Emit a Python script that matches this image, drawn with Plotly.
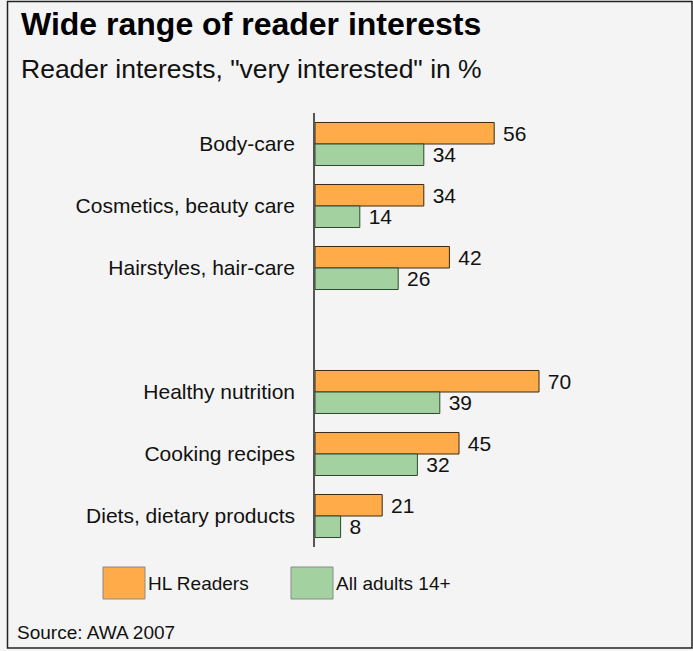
import plotly.graph_objects as go

# ---- data ----
categories = ["Body-care", "Cosmetics, beauty care", "Hairstyles, hair-care", " ",
              "Healthy nutrition", "Cooking recipes", "Diets, dietary products"]
hl_readers = [56, 34, 42, None, 70, 45, 21]
all_adults = [34, 14, 26, None, 39, 32, 8]
series_names = ["HL Readers", "All adults 14+"]
title_text = "Wide range of reader interests"
subtitle_text = 'Reader interests, "very interested" in %'
source_text = "Source: AWA 2007"

# ---- layout geometry (pixels) ----
W, H = 693, 651
ML, MR, MT, MB = 315, 58, 113, 104
PW, PH = W - ML - MR, H - MT - MB


def px(x):
    return (x - ML) / PW


def py(y):
    return (H - MB - y) / PH


FONT = "Liberation Sans, Arial, sans-serif"
ORANGE = "#ffab4a"
GREEN = "#a4d1a0"

fig = go.Figure()
fig.add_trace(go.Bar(
    y=categories, x=hl_readers, orientation="h", name=series_names[0],
    marker=dict(color=ORANGE, line=dict(color="#3a2a10", width=1)),
    text=hl_readers, texttemplate=" %{x}", textposition="outside",
    textfont=dict(size=21, color="#111", family=FONT),
    constraintext="none", cliponaxis=False, hoverinfo="skip",
))
fig.add_trace(go.Bar(
    y=categories, x=all_adults, orientation="h", name=series_names[1],
    marker=dict(color=GREEN, line=dict(color="#2e4a2e", width=1)),
    text=all_adults, texttemplate=" %{x}", textposition="outside",
    textfont=dict(size=21, color="#111", family=FONT),
    constraintext="none", cliponaxis=False, hoverinfo="skip",
))

annotations = [
    dict(text="<b>" + title_text + "</b>", x=px(19), y=py(24), xanchor="left", yanchor="middle",
         font=dict(size=32, color="#000", family=FONT)),
    dict(text=subtitle_text, x=px(19), y=py(69), xanchor="left", yanchor="middle",
         font=dict(size=26.5, color="#111", family=FONT)),
    dict(text=source_text, x=px(15), y=py(632), xanchor="left", yanchor="middle",
         font=dict(size=19, color="#111", family=FONT)),
    dict(text=series_names[0], x=px(146), y=py(583), xanchor="left", yanchor="middle",
         font=dict(size=19, color="#111", family=FONT)),
    dict(text=series_names[1], x=px(334), y=py(583), xanchor="left", yanchor="middle",
         font=dict(size=19, color="#111", family=FONT)),
]
for a in annotations:
    a.update(xref="paper", yref="paper", showarrow=False)

shapes = [
    dict(type="rect", xref="paper", yref="paper", x0=px(103), x1=px(145), y0=py(567), y1=py(599),
         fillcolor=ORANGE, line=dict(color="#8a8a8a", width=1)),
    dict(type="rect", xref="paper", yref="paper", x0=px(291), x1=px(333), y0=py(567), y1=py(599),
         fillcolor=GREEN, line=dict(color="#8a8a8a", width=1)),
    dict(type="rect", xref="paper", yref="paper", x0=px(7.5), x1=px(692), y0=py(1.5), y1=py(648),
         fillcolor="rgba(0,0,0,0)", line=dict(color="#222", width=1.5), layer="above"),
]

fig.update_layout(
    width=W, height=H, autosize=False,
    margin=dict(l=ML, r=MR, t=MT, b=MB, pad=0),
    paper_bgcolor="#f4f4f4", plot_bgcolor="#f4f4f4",
    barmode="group", bargap=0.306, bargroupgap=0,
    showlegend=False,
    font=dict(family=FONT, color="#111"),
    annotations=annotations, shapes=shapes,
    xaxis=dict(range=[0, 100], visible=False, fixedrange=True),
    yaxis=dict(type="category", categoryorder="array", categoryarray=categories,
               autorange="reversed", showline=True, linecolor="#555", linewidth=1.5,
               ticks="", ticklabelstandoff=14, showgrid=False, zeroline=False,
               tickfont=dict(size=21, color="#111", family=FONT), fixedrange=True),
)

fig.write_html("out.html", config={"displayModeBar": False},
               post_script="document.body.style.margin='0';document.body.style.overflow='hidden';")
